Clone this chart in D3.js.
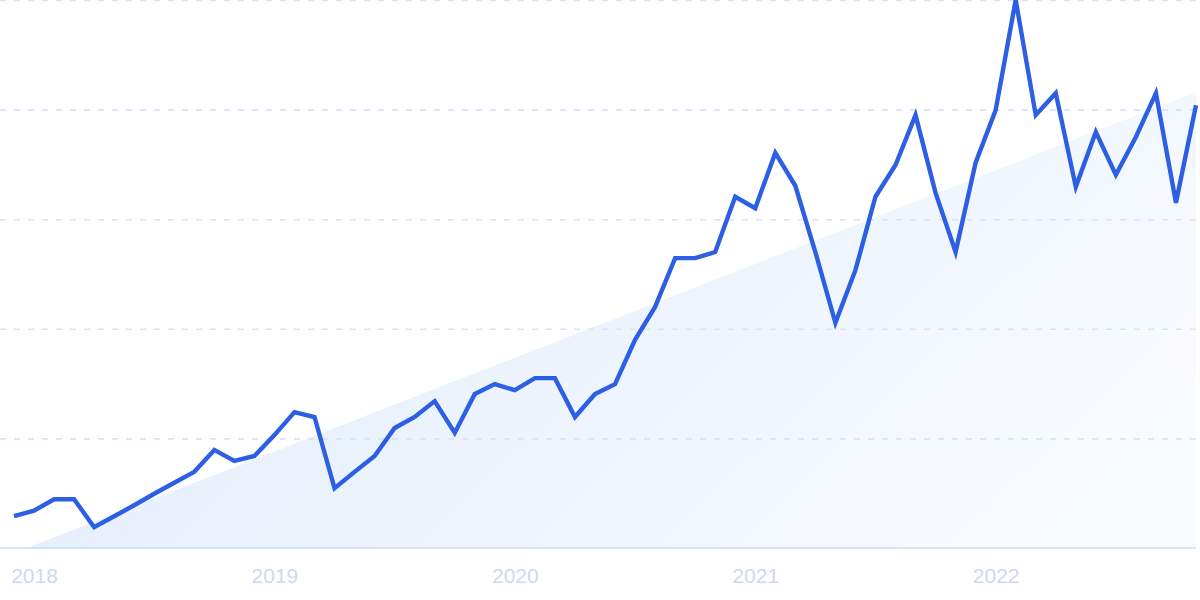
<!DOCTYPE html>
<html>
<head>
<meta charset="utf-8">
<script src="https://cdn.jsdelivr.net/npm/d3@7/dist/d3.min.js"></script>
<style>
  html, body { margin: 0; padding: 0; background: #ffffff; }
  svg { display: block; }
</style>
</head>
<body>
<svg id="chart" width="1200" height="600"></svg>
<script>
// Monthly values, Dec 2017 .. Nov 2022 (relative interest, 0-100)
const months = d3.range(60).map(i => new Date(2017, 11 + i, 1));
const values = [
  5.8, 6.8, 8.9, 8.9, 3.8, 5.8, 7.8, 9.9, 11.9, 13.9, 17.9, 15.9,
  16.8, 20.6, 24.8, 23.9, 10.9, 13.9, 16.8, 21.9, 23.9, 26.8, 21.0, 28.1,
  29.9, 28.8, 31.0, 31.0, 23.9, 28.1, 29.9, 38.0, 44.0, 52.9, 52.9, 54.0,
  64.1, 62.0, 72.1, 66.1, 54.0, 41.1, 50.7, 64.1, 69.9, 79.0, 64.8, 54.0,
  70.3, 79.9, 100, 79.0, 83.0, 65.9, 75.9, 68.1, 75.0, 83.0, 63.0, 80.8
];
const yearLabels = ["2018", "2019", "2020", "2021", "2022"];
const yearIndex = [1, 13, 25, 37, 49];
const gridValues = [20, 40, 60, 80, 100];
// trend wedge: [index, value]
const trend = [[0.65, 0], [59, 83.2]];

const svg = d3.select("#chart");
const x = d3.scaleLinear().domain([0, 59]).range([14, 1196]);
const y = d3.scaleLinear().domain([0, 100]).range([548, 0]);

const defs = svg.append("defs");
const grad = defs.append("linearGradient")
  .attr("id", "trendGrad")
  .attr("x1", "0").attr("y1", "0.3").attr("x2", "1").attr("y2", "0.7");
grad.append("stop").attr("offset", "0%").attr("stop-color", "#e0ecfb");
grad.append("stop").attr("offset", "100%").attr("stop-color", "#f9fbff");

// trend area
const area = d3.area()
  .x(d => x(d[0]))
  .y0(y(0))
  .y1(d => y(d[1]));
svg.append("path")
  .datum(trend)
  .attr("d", area)
  .attr("fill", "url(#trendGrad)");

// gridlines
const yAxis = d3.axisLeft(y).tickValues(gridValues).tickSize(-1200).tickFormat("");
const g = svg.append("g").call(yAxis);
g.select(".domain").remove();
g.selectAll(".tick line")
  .attr("stroke", "#d3e4fb")
  .attr("stroke-width", 1.6)
  .attr("stroke-dasharray", "6,8");

// baseline
svg.append("line")
  .attr("x1", 0).attr("x2", x(59))
  .attr("y1", y(0)).attr("y2", y(0))
  .attr("stroke", "#c6def8")
  .attr("stroke-width", 1.6);

// x labels
const xAxis = d3.axisBottom(x).tickValues(yearIndex).tickSize(0)
  .tickFormat((d, i) => yearLabels[i]);
const gx = svg.append("g").attr("transform", `translate(0,${y(0)})`).call(xAxis);
gx.select(".domain").remove();
gx.selectAll(".tick text")
  .attr("y", 35)
  .attr("dy", 0)
  .attr("fill", "#ccd8f4")
  .style("font-family", "'Liberation Sans', Arial, sans-serif")
  .style("font-size", "21px");

// line
const line = d3.line()
  .x((d, i) => x(i))
  .y(d => y(d));
svg.append("path")
  .datum(values)
  .attr("d", line)
  .attr("fill", "none")
  .attr("stroke", "#2d5fe4")
  .attr("stroke-width", 4.4)
  .attr("stroke-linejoin", "miter")
  .attr("stroke-linecap", "butt");
</script>
</body>
</html>
